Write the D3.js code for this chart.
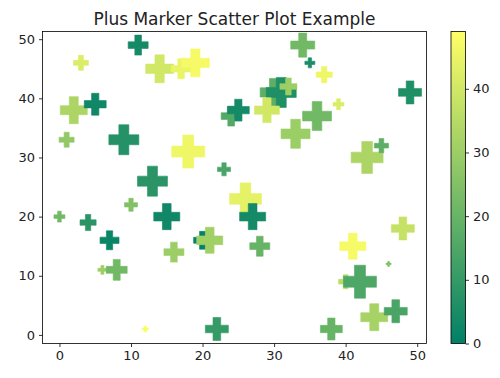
<!DOCTYPE html>
<html>
<head>
<meta charset="utf-8">
<script src="https://cdn.jsdelivr.net/npm/d3@7"></script>
<style>
  body { margin: 0; background: #fff; }
  text { font-family: "DejaVu Sans", sans-serif; fill: #222; }
</style>
</head>
<body>
<svg width="500" height="378"></svg>
<script>
// Data (x, y, colour value, marker area)
var xs = [11, 3, 14, 17, 19, 2, 5, 1, 9, 18,
          13, 23, 0, 4, 7, 10, 15, 16, 20, 21,
          6, 8, 12, 22, 34, 35, 37, 30, 31, 32,
          29, 24, 25, 36, 39, 33, 49, 43, 45, 26,
          27, 28, 38, 41, 48, 46, 40, 42, 44, 47];
var ys = [49, 46, 45, 45, 46, 38, 39, 33, 33, 31,
          26, 28, 20, 19, 16, 22, 20, 14, 16, 16,
          11, 11, 1, 1, 49, 46, 44, 41, 41, 42,
          38, 37, 38, 37, 39, 34, 41, 30, 32, 23,
          20, 15, 1, 15, 18, 12, 9, 9, 3, 4];
var colors = [4, 42, 40, 45, 47, 33, 3, 28, 7, 46,
              8, 14, 22, 8, 2, 25, 3, 30, 1, 31,
              30, 22, 48, 10, 22, 5, 46, 18, 6, 30,
              40, 16, 4, 22, 42, 30, 6, 33, 18, 44,
              4, 20, 20, 47, 38, 25, 36, 15, 32, 14];
var sizes = [400, 225, 780, 400, 780, 730, 480, 225, 900, 1090,
             900, 170, 120, 260, 360, 170, 680, 400, 320, 680,
             80, 440, 36, 530, 580, 100, 260, 780, 900, 290,
             620, 400, 480, 840, 120, 840, 530, 1020, 200, 1020,
             680, 400, 480, 680, 530, 25, 200, 1090, 730, 530];
var xTicks = [0, 10, 20, 30, 40, 50];
var yTicks = [0, 10, 20, 30, 40, 50];
var cbTicks = [0, 10, 20, 30, 40];

// Layout
var ax = {left: 42.5, top: 31.5, right: 426.5, bottom: 343.5};
var cb = {left: 451, right: 465.5};

var svg = d3.select("svg");

var x = d3.scaleLinear().domain([-2.37, 51.3]).range([ax.left, ax.right]);
var y = d3.scaleLinear().domain([-1.45, 51.3]).range([ax.bottom, ax.top]);
var cmin = 0, cmax = 49;
// matplotlib "summer" colormap
var summer = function (t) {
  return d3.rgb(255 * t, 255 * (0.5 + 0.5 * t), 255 * 0.4);
};
var color = d3.scaleLinear().domain([cmin, cmax]).range([0, 1]).clamp(true);
var width = d3.scaleSqrt().domain([0, 1000]).range([0, 31.6]);

// Filled plus marker, like matplotlib "P"
function plusPath(w) {
  var a = w / 2, b = w / 6;
  return "M" + [[-b, -a], [b, -a], [b, -b], [a, -b], [a, b], [b, b],
    [b, a], [-b, a], [-b, b], [-a, b], [-a, -b], [-b, -b]].join("L") + "Z";
}

var pts = xs.map(function (d, i) {
  return {x: d, y: ys[i], c: colors[i], s: sizes[i]};
});

svg.append("g")
  .selectAll("path")
  .data(pts)
  .enter()
    .append("path")
    .attr("transform", function (d) { return "translate(" + [x(d.x), y(d.y)] + ")"; })
    .attr("d", function (d) { return plusPath(width(d.s)); })
    .style("fill", function (d) { return summer(color(d.c)); })
    .style("stroke", function (d) { return summer(color(d.c)); })
    .style("stroke-width", 0.6);

// Axes
var xAxis = svg.append("g")
  .attr("transform", "translate(0," + ax.bottom + ")")
  .call(d3.axisBottom(x).tickValues(xTicks).tickSize(3.5).tickPadding(4));
var yAxis = svg.append("g")
  .attr("transform", "translate(" + ax.left + ",0)")
  .call(d3.axisLeft(y).tickValues(yTicks).tickSize(3.5).tickPadding(4));
[xAxis, yAxis].forEach(function (g) {
  g.select(".domain").remove();
  g.selectAll("text").style("font-size", "13px").style("font-family", "DejaVu Sans").style("fill", "#222");
  g.selectAll("line").style("stroke", "#000").style("stroke-width", 0.8);
});

svg.append("rect")
  .attr("x", ax.left).attr("y", ax.top)
  .attr("width", ax.right - ax.left).attr("height", ax.bottom - ax.top)
  .style("fill", "none").style("stroke", "#000").style("stroke-width", 0.8);

svg.append("text")
  .attr("x", (ax.left + ax.right) / 2)
  .attr("y", 24.5)
  .attr("text-anchor", "middle")
  .style("font-size", "17px")
  .text("Plus Marker Scatter Plot Example");

// Colorbar
var cy = d3.scaleLinear().domain([cmin, cmax]).range([ax.bottom, ax.top]);
var grad = svg.append("defs").append("linearGradient")
  .attr("id", "cbgrad").attr("x1", 0).attr("y1", 1).attr("x2", 0).attr("y2", 0);
d3.range(0, 1.01, 0.1).forEach(function (t) {
  grad.append("stop").attr("offset", t).attr("stop-color", summer(t));
});
svg.append("rect")
  .attr("x", cb.left).attr("y", ax.top)
  .attr("width", cb.right - cb.left).attr("height", ax.bottom - ax.top)
  .style("fill", "url(#cbgrad)")
  .style("stroke", "#000").style("stroke-width", 0.8);

var cAxis = svg.append("g")
  .attr("transform", "translate(" + cb.right + ",0)")
  .call(d3.axisRight(cy).tickValues(cbTicks).tickSize(3.5).tickPadding(4));
cAxis.select(".domain").remove();
cAxis.selectAll("text").style("font-size", "13px").style("font-family", "DejaVu Sans").style("fill", "#222");
cAxis.selectAll("line").style("stroke", "#000").style("stroke-width", 0.8);
</script>
</body>
</html>
